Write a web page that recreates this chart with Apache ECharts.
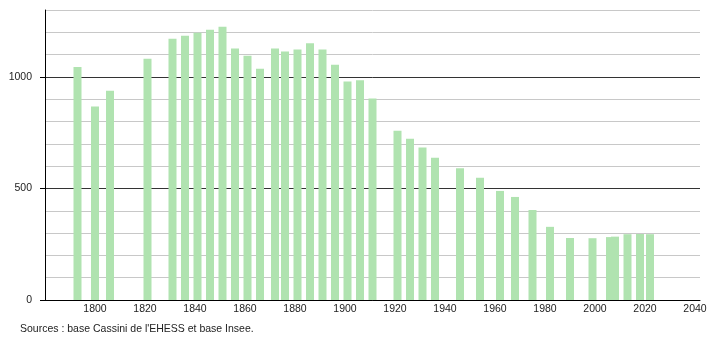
<!DOCTYPE html>
<html>
<head>
<meta charset="utf-8">
<script src="https://cdn.jsdelivr.net/npm/echarts@6/dist/echarts.min.js"></script>
<style>html,body{margin:0;padding:0;background:#fff;}#c{width:710px;height:340px;}</style>
</head>
<body>
<div id="c"></div>
<script>
const years = [1793,1800,1806,1821,1831,1836,1841,1846,1851,1856,1861,1866,1872,1876,1881,1886,1891,1896,1901,1906,1911,1921,1926,1931,1936,1946,1954,1962,1968,1975,1982,1990,1999,2006,2008,2013,2018,2022];
const population = [1045,867,938,1081,1171,1185,1198,1212,1225,1127,1095,1037,1127,1114,1123,1151,1123,1055,979,985,903,759,723,684,638,591,548,489,462,404,328,278,277,282,284,295,296,295];
const yTickLabels = [0,500,1000];
const sourceText = "Sources : base Cassini de l'EHESS et base Insee.";

const chart = echarts.init(document.getElementById('c'), null, {renderer:'canvas'});
const font = 'Liberation Sans, Arial, sans-serif';
chart.setOption({
  animation: false,
  backgroundColor: '#fff',
  grid: {left: 45, right: 10, top: 10, bottom: 40, containLabel: false},
  xAxis: {
    type: 'value', min: 1780, max: 2042, interval: 20,
    axisLine: {show: true, lineStyle: {color: '#000', width: 1}},
    axisTick: {show: false},
    splitLine: {show: false},
    axisLabel: {
      margin: 4, fontSize: 10.5, fontFamily: font, color: '#222',
      formatter: v => (v % 20 === 0 && v > 1780) ? String(v) : ''
    }
  },
  yAxis: [{
    type: 'value', min: 0, max: 1300, interval: 100,
    axisLine: {show: false},
    axisTick: {show: false},
    axisLabel: {show: false},
    splitLine: {show: true, lineStyle: {color: '#c8c8c8', width: 1}}
  }, {
    type: 'value', min: 0, max: 1300, interval: 100, position: 'left',
    axisLine: {show: true, lineStyle: {color: '#000', width: 1}},
    axisTick: {show: true, length: 5, customValues: yTickLabels, lineStyle: {color: '#000'}},
    splitLine: {show: true, lineStyle: {color: '#333', width: 1}},
    axisLabel: {
      margin: 13, fontSize: 10.5, fontFamily: font, color: '#222',
      customValues: yTickLabels,
      formatter: v => String(v)
    }
  }],
  series: [{
    type: 'bar',
    barWidth: 8,
    yAxisIndex: 1,
    itemStyle: {color: '#b0e3b0'},
    data: years.map((y, i) => [y, population[i]])
  }],
  graphic: [{
    type: 'text', left: 20, top: 324,
    style: {text: sourceText, fontSize: 10.5, fontFamily: font, fill: '#222'}
  }]
});
</script>
</body>
</html>
